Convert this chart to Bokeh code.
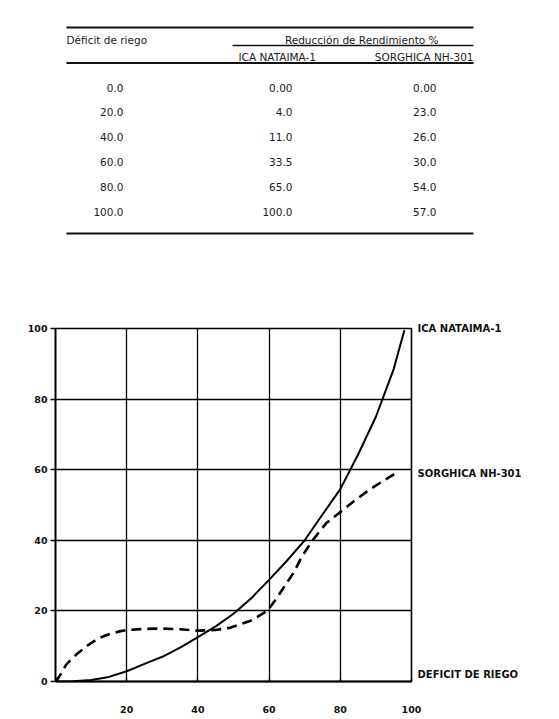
from bokeh.plotting import figure
from bokeh.layouts import column
from bokeh.models import Range1d, FixedTicker, LinearAxis
from bokeh.core.properties import value
from bokeh.embed import file_html
from bokeh.resources import INLINE

# ---------------- data ----------------
header_left = "Déficit de riego"
header_group = "Reducción de Rendimiento %"
series_names = ["ICA NATAIMA-1", "SORGHICA NH-301"]
axis_title = "DEFICIT DE RIEGO"

deficit_labels = ["0.0", "20.0", "40.0", "60.0", "80.0", "100.0"]
ica_table = ["0.00", "4.0", "11.0", "33.5", "65.0", "100.0"]
sorghica_table = ["0.00", "23.0", "26.0", "30.0", "54.0", "57.0"]

# curves
ica_x = [0, 5, 10, 15, 20, 25, 30, 35, 40, 45, 50, 55, 60, 65, 70, 75, 80, 85, 90, 95, 98]
ica_y = [0, 0.1, 0.4, 1.3, 2.9, 5.0, 7.0, 9.6, 12.6, 15.6, 19.2, 23.6, 28.8, 34.2, 40.0, 47.3, 54.5, 64.3, 75.0, 88.5, 99.5]

sorg_x = [0, 1, 3, 6, 9, 12, 15, 18, 20, 25, 30, 35, 40, 45, 49, 55, 59.5, 62, 64, 67, 69, 72, 76, 80, 84, 88, 92, 96]
sorg_y = [0, 1.3, 4.8, 7.8, 10.2, 12.2, 13.4, 14.2, 14.6, 14.9, 15.0, 14.8, 14.4, 14.6, 15.2, 17.3, 20.0, 23.4, 26.5, 31.0, 35.0, 39.7, 44.8, 48.0, 51.2, 54.2, 56.8, 59.3]

x_ticks = [20, 40, 60, 80, 100]
y_ticks = [0, 20, 40, 60, 80, 100]
# right-hand labels: y positions where the names are written
right_label_ticks = [100, 59, 2]
right_label_texts = [series_names[0], series_names[1], axis_title]

FONT = "DejaVu Sans"
W = 559

# ---------------- table ----------------
TH = 260
tab = figure(width=W, height=TH, x_range=Range1d(0, W), y_range=Range1d(TH, 0),
             output_backend="svg", toolbar_location=None, min_border=0,
             x_axis_location=None, y_axis_location=None, outline_line_color=None)
tab.frame_align = False
tab.grid.visible = False

left, right = 66, 473
tab.segment(x0=[left, 232, left, left], x1=[right, right, right, right],
            y0=[27, 45, 62.5, 233], y1=[27, 45, 62.5, 233],
            line_color="#111111", line_width=[2.2, 1.5, 2.2, 2.2])

def txt(fig, xs, ys, texts, align, size="10.5px", style="normal"):
    fig.text(x=xs, y=ys, text=texts, text_align=align, text_baseline="middle",
             text_font=value(FONT), text_font_size=size, text_font_style=style,
             text_color="#1a1a1a")

txt(tab, [left], [39], [header_left], "left")
txt(tab, [438], [39], [header_group], "right")
txt(tab, [238], [56], [series_names[0]], "left")
txt(tab, [right], [56], [series_names[1]], "right")

row_y = [87 + 24.8 * i for i in range(len(deficit_labels))]
txt(tab, [123] * len(row_y), row_y, deficit_labels, "right")
txt(tab, [292] * len(row_y), row_y, ica_table, "right")
txt(tab, [436] * len(row_y), row_y, sorghica_table, "right")

# ---------------- chart ----------------
p = figure(width=W, height=719 - TH, x_range=Range1d(0, 100), y_range=Range1d(0, 100),
           output_backend="svg", toolbar_location=None,
           min_border_left=55, min_border_right=148, min_border_top=68, min_border_bottom=38,
           outline_line_color="black", outline_line_width=1.6, outline_line_alpha=1)
p.frame_align = False

p.xaxis.ticker = FixedTicker(ticks=x_ticks)
p.yaxis.ticker = FixedTicker(ticks=y_ticks)
for ax in (p.xaxis[0], p.yaxis[0]):
    ax.axis_line_color = "black"
    ax.major_tick_line_color = "black"
    ax.major_tick_line_width = 1.4
    ax.minor_tick_line_color = None
    ax.major_label_text_font = FONT
    ax.major_label_text_font_style = "bold"
    ax.major_label_text_font_size = "9.5px"
    ax.major_label_text_color = "#111111"
p.xaxis.axis_line_width = 2.2
p.yaxis.axis_line_width = 1.6
p.xaxis.major_tick_in = 3
p.xaxis.major_tick_out = 0
p.xaxis.major_label_standoff = 24
p.yaxis.major_tick_in = 0
p.yaxis.major_tick_out = 5
p.yaxis.major_label_standoff = 3

# names written to the right of the frame
rax = LinearAxis(ticker=FixedTicker(ticks=right_label_ticks),
                 major_label_overrides={t: s for t, s in zip(right_label_ticks, right_label_texts)},
                 axis_line_color=None, major_tick_line_color=None, minor_tick_line_color=None,
                 major_tick_in=0, major_tick_out=0, major_label_standoff=6,
                 major_label_text_font=FONT, major_label_text_font_style="bold",
                 major_label_text_font_size="10px", major_label_text_color="#111111")
p.add_layout(rax, "right")

p.grid.grid_line_color = "black"
p.grid.grid_line_alpha = 1
p.grid.grid_line_width = 1.3

p.line(ica_x, ica_y, line_color="black", line_width=2)
p.line(sorg_x, sorg_y, line_color="black", line_width=2.6, line_dash="10 6")

layout = column(tab, p, spacing=0)
open("out.html", "w").write(file_html(layout, INLINE))
